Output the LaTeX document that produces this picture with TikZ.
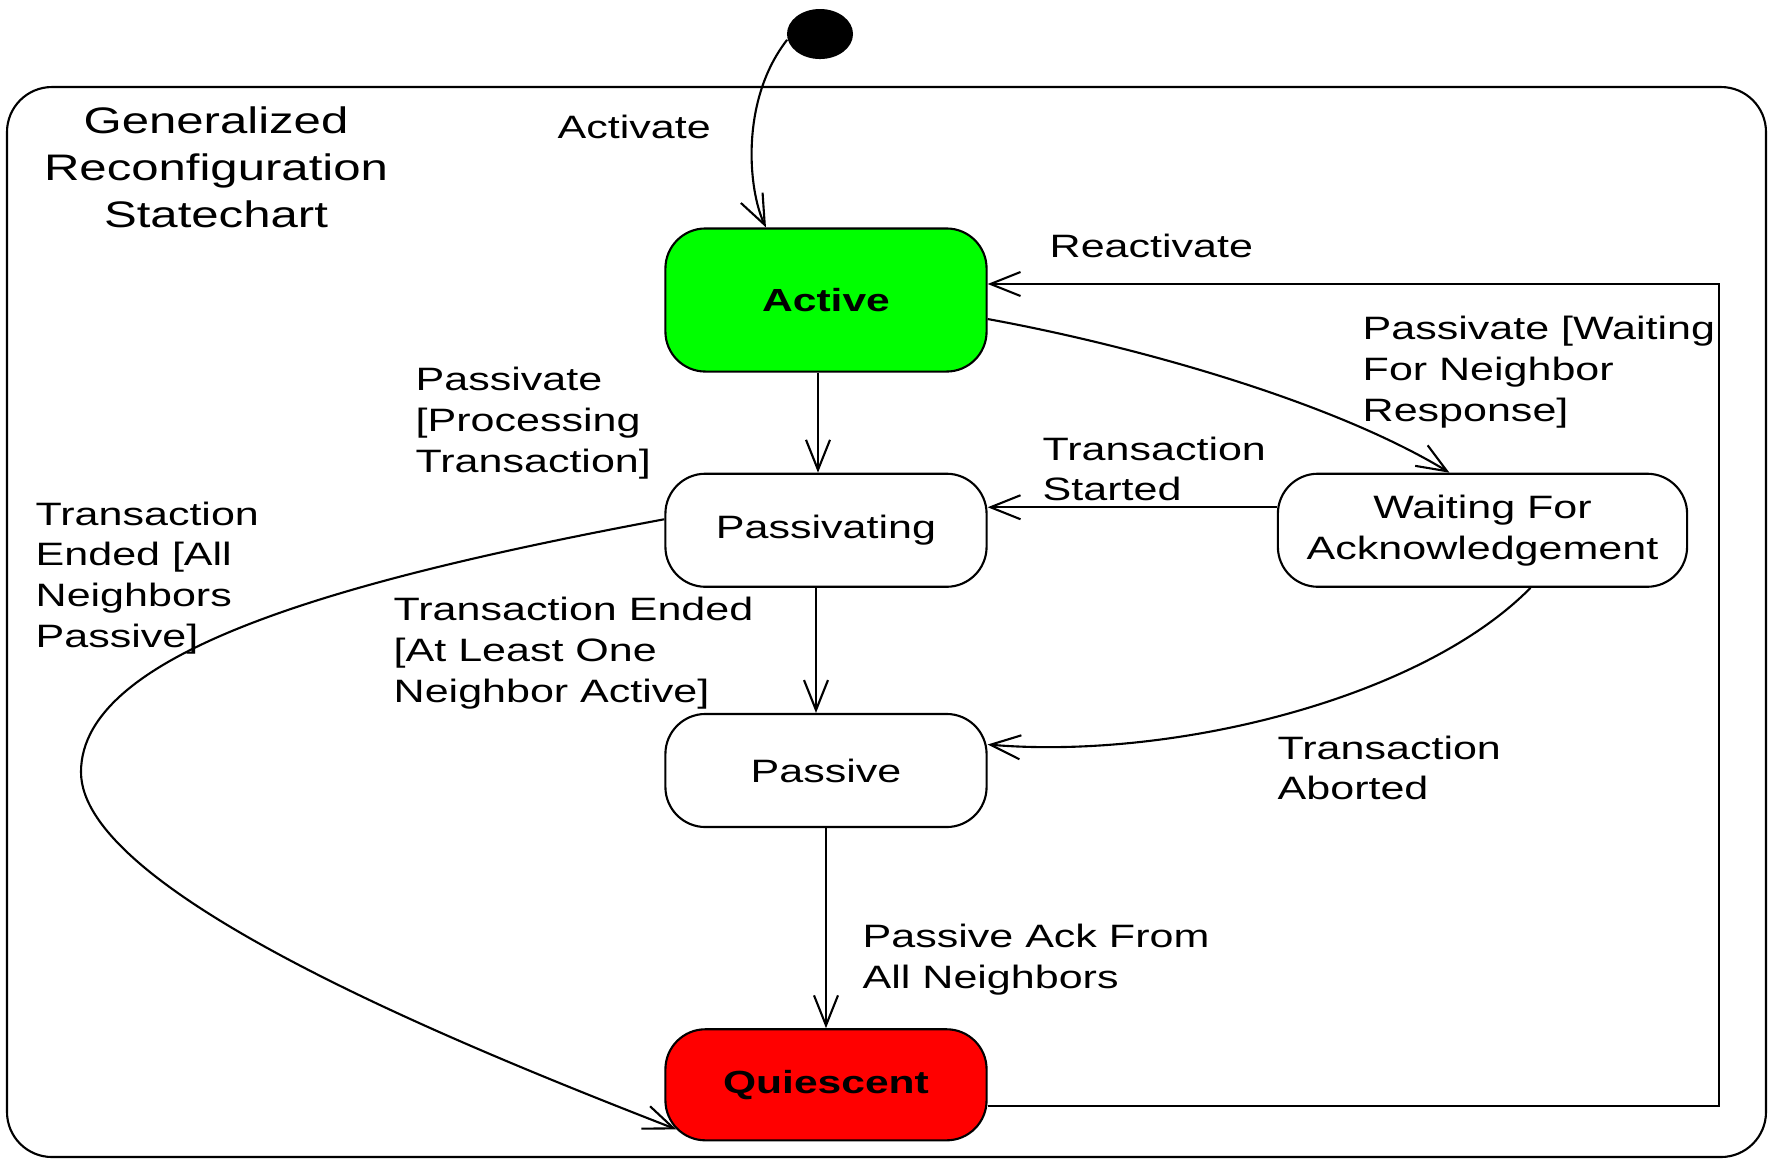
\documentclass[tikz,border=0pt]{standalone}
\usepackage{fontspec}
\setmainfont[FakeStretch=1.33]{Liberation Sans}
\usetikzlibrary{positioning,shapes.geometric,arrows.meta}

\begin{document}
\begin{tikzpicture}[
    x=0.01cm, y=-0.01cm,
    font=\fontsize{9.2}{11.6}\selectfont,
    state/.style={rectangle, rounded corners=0.4cm, draw, line width=0.6pt, minimum width=3.21cm, minimum height=1.13cm, align=center},
    init/.style={ellipse, fill=black, minimum width=0.66cm, minimum height=0.5cm, inner sep=0pt},
    trans/.style={-{Straight Barb[length=3mm,width=2.4mm]}, line width=0.6pt},
    lbl/.style={anchor=west, align=left, inner sep=0pt}
]
    \useasboundingbox (0,0) rectangle (1772,1159);
    \draw[line width=0.6pt, rounded corners=0.45cm] (7,87) rectangle (1766,1157);
    \node[align=center, font=\fontsize{10.5}{13.4}\selectfont] (title) at (216,167) {Generalized\\Reconfiguration\\Statechart};

    \node[init] (start) at (820,34) {};
    \node[state, fill={rgb,255:red,0;green,255;blue,0}, minimum height=1.43cm, font=\fontsize{9.1}{10}\selectfont\bfseries] (Active) at (826,300) {Active};
    \node[state, below=1cm of Active] (Passivating) {Passivating};
    \node[state, below=1.25cm of Passivating] (Passive) {Passive};
    \node[state, fill={rgb,255:red,255;green,0;blue,0}, below=2.0cm of Passive, minimum height=1.11cm, font=\fontsize{9.1}{10}\selectfont\bfseries] (Quiescent) {Quiescent};
    \node[state, right=2.89cm of Passivating, minimum width=4.09cm] (Waiting) {Waiting For\\Acknowledgement};

    \draw[trans] (start.190) .. controls (740,100) and (748,190) .. ([xshift=-0.6cm]Active.north);
    \draw[trans] ([xshift=-0.08cm]Active.south) -- ([xshift=-0.08cm]Passivating.north);
    \draw[trans] ([xshift=-0.1cm]Passivating.south) -- ([xshift=-0.1cm]Passive.north);
    \draw[trans] (Passive.south) -- (Quiescent.north);
    \draw[trans] ([yshift=-0.19cm]Active.east) .. controls (1130,345) and (1330,400) .. ([xshift=-0.33cm]Waiting.north);
    \draw[trans] ([yshift=0.23cm]Waiting.west) -- ([yshift=0.23cm]Passivating.east);
    \draw[trans] ([xshift=0.48cm]Waiting.south) .. controls (1420,700) and (1170,760) .. ([yshift=0.26cm]Passive.east);
    \draw[trans] ([yshift=-0.21cm]Quiescent.east) -- ++(731,0) |- ([yshift=0.16cm]Active.east);
    \draw[trans] ([yshift=0.11cm]Passivating.west) .. controls (350,578) and (81,650) .. (81,772)
        .. controls (81,890) and (444,1039) .. ([shift={(0.12cm,0.12cm)}]Quiescent.south west);

    \node[lbl] (lactivate) at (557,127) {Activate};
    \node[lbl] (lreactivate) at (1049,246) {Reactivate};
    \node[lbl] (lprocessing) at (415,423) {Passivate\\{}[Processing\\Transaction]};
    \node[lbl] (lwaiting) at (1362,372) {Passivate [Waiting\\For Neighbor\\Response]};
    \node[lbl] (lstarted) at (1042,469) {Transaction\\Started};
    \node[lbl] (lallpassive) at (35,578) {Transaction\\Ended [All\\Neighbors\\Passive]};
    \node[lbl] (loneactive) at (393,653) {Transaction Ended\\{}[At Least One\\Neighbor Active]};
    \node[lbl] (laborted) at (1277,768) {Transaction\\Aborted};
    \node[lbl] (lack) at (862,960) {Passive Ack From\\All Neighbors};
\end{tikzpicture}
\end{document}
